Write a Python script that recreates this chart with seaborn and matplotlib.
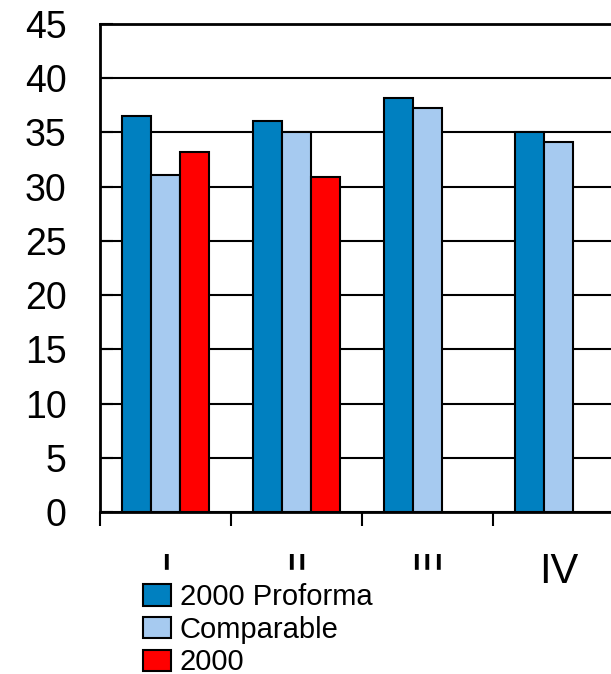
import numpy as np
import pandas as pd
import matplotlib
matplotlib.use("Agg")
import matplotlib.pyplot as plt
import seaborn as sns

# Quarterly values per series
quarters = ["I", "II", "III", "IV"]
proforma_2000 = [36.5, 36.1, 38.2, 35.0]
comparable = [31.1, 35.0, 37.3, 34.1]
actual_2000 = [33.2, 30.9, np.nan, np.nan]

series_names = ["2000 Proforma", "Comparable", "2000"]
series_colors = ["#0080C0", "#A6CAF0", "#FF0000"]
y_ticks = [0, 5, 10, 15, 20, 25, 30, 35, 40, 45]

df = pd.DataFrame({
    "quarter": quarters * 3,
    "series": [s for s in series_names for _ in quarters],
    "value": proforma_2000 + comparable + actual_2000,
})

sns.set_theme(style="white")
plt.rcParams["font.family"] = ["Liberation Sans", "DejaVu Sans"]
plt.rcParams["text.color"] = "black"
plt.rcParams["xtick.labelcolor"] = "black"
plt.rcParams["ytick.labelcolor"] = "black"

W, H = 611, 674
fig = plt.figure(figsize=(W / 100, H / 100), dpi=100)
ax = fig.add_axes([100 / W, (H - 512) / H, (W - 100) / W, (512 - 24) / H])

sns.barplot(
    data=df, x="quarter", y="value", hue="series",
    order=quarters, hue_order=series_names, palette=series_colors,
    width=0.67, edgecolor="black", linewidth=1.5, saturation=1,
    ax=ax,
)

ax.set_ylim(0, 45)
ax.set_xlim(-0.5, 3.40)
ax.set_yticks(y_ticks)
ax.set_xlabel("")
ax.set_ylabel("")

ax.set_axisbelow(True)
ax.yaxis.grid(True, color="black", linewidth=1.5)
ax.xaxis.grid(False)

for side in ["left", "bottom", "top"]:
    ax.spines[side].set_visible(True)
    ax.spines[side].set_color("black")
    ax.spines[side].set_linewidth(2)
ax.spines["right"].set_visible(False)

ax.tick_params(axis="y", direction="in", length=9, width=1.5, color="black",
               labelsize=27, pad=24, left=True, labelcolor="black")
ax.tick_params(axis="x", which="major", length=0, labelsize=30, pad=29,
               labelcolor="black")
ax.set_xticks([-0.5, 0.5, 1.5, 2.5], minor=True)
ax.tick_params(axis="x", which="minor", direction="out", length=10,
               width=1.5, color="black", bottom=True)

# Legend sits below the axis, its white box overlapping the lower part of the labels
leg_left, leg_top, leg_right = 130, 570, 445
sns.move_legend(
    ax, "upper left",
    bbox_to_anchor=(leg_left / W, (H - leg_top) / H - 0.2,
                    (leg_right - leg_left) / W, 0.2),
    bbox_transform=fig.transFigure, mode="expand",
    title=None, frameon=True, fontsize=21,
    handlelength=0.95, handleheight=0.75, handletextpad=0.3,
    labelspacing=0.16, borderpad=0.45, borderaxespad=0,
    fancybox=False, framealpha=1,
)
leg = ax.get_legend()
leg.get_frame().set_facecolor("white")
leg.get_frame().set_edgecolor("white")
leg.set_zorder(10)
for p in leg.get_patches():
    p.set_edgecolor("black")
    p.set_linewidth(1.5)
for t in leg.get_texts():
    t.set_color("black")

fig.savefig("out.png", dpi=100)
